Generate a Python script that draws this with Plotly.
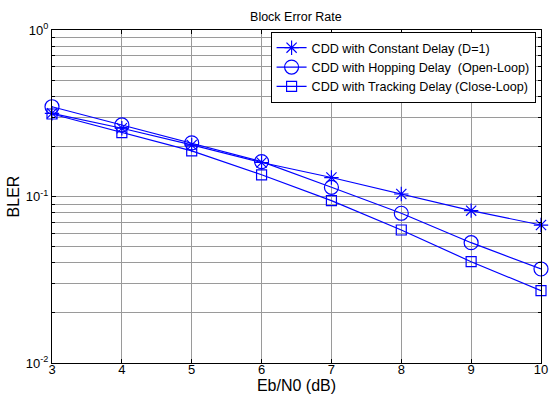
import plotly.graph_objects as go

ebn0 = [3, 4, 5, 6, 7, 8, 9, 10]
bler_constant = [0.316, 0.257, 0.204, 0.160, 0.130, 0.1035, 0.0822, 0.0674]
bler_hopping = [0.346, 0.269, 0.210, 0.162, 0.1136, 0.0793, 0.0528, 0.0367]
bler_tracking = [0.313, 0.242, 0.188, 0.135, 0.0944, 0.0629, 0.0406, 0.0272]

names = ["CDD with Constant Delay (D=1)",
         "CDD with Hopping Delay  (Open-Loop)",
         "CDD with Tracking Delay (Close-Loop)"]

y_major = [0.01, 0.1, 1]
y_major_text = ["10<sup>-2</sup>", "10<sup>-1</sup>", "10<sup>0</sup>"]
y_minor = [0.02, 0.03, 0.04, 0.05, 0.06, 0.07, 0.08, 0.09,
           0.2, 0.3, 0.4, 0.5, 0.6, 0.7, 0.8, 0.9]

fig = go.Figure()
series = [(bler_constant, "asterisk-open", 12),
          (bler_hopping, "circle-open", 14),
          (bler_tracking, "square-open", 10)]
for (vals, sym, sz), nm in zip(series, names):
    fig.add_trace(go.Scatter(
        x=ebn0, y=vals, mode="lines+markers", name=nm,
        line=dict(color="#0000FF", width=1.2),
        marker=dict(symbol=sym, size=sz, color="#0000FF",
                    line=dict(color="#0000FF", width=1.2)),
        cliponaxis=False,
    ))

fig.update_layout(
    width=549, height=394,
    margin=dict(l=52, r=8, t=30, b=31, autoexpand=False),
    paper_bgcolor="white", plot_bgcolor="white",
    font=dict(family="Liberation Sans, Arial, sans-serif", size=13, color="black"),
    title=dict(text="Block Error Rate", x=0.539, xanchor="center", y=0.959, yanchor="middle",
               font=dict(size=12.5)),
    showlegend=True,
    legend=dict(x=0.447, y=0.994, xanchor="left", yanchor="top",
                bgcolor="white", bordercolor="black", borderwidth=1,
                font=dict(size=12.6), tracegroupgap=0, itemwidth=30),
)

fig.update_xaxes(
    range=[3, 10], tickvals=ebn0, ticktext=[str(v) for v in ebn0],
    showgrid=True, gridcolor="#9a9a9a", gridwidth=1,
    showline=True, linecolor="black", linewidth=1, mirror="ticks",
    ticks="inside", ticklen=4, tickcolor="black",
    ticklabelstandoff=-6,
    title=dict(text="Eb/N0 (dB)"), zeroline=False,
    tickfont=dict(size=13), automargin=False,
)
fig.update_yaxes(
    type="log", range=[-2, 0], tickvals=y_major, ticktext=y_major_text,
    showgrid=True, gridcolor="#9a9a9a", gridwidth=1,
    showline=True, linecolor="black", linewidth=1, mirror="ticks",
    ticks="inside", ticklen=4, tickcolor="black",
    minor=dict(tickvals=y_minor, ticks="inside", ticklen=3, tickcolor="black",
               showgrid=True, gridcolor="#9a9a9a", gridwidth=1),
    title=dict(text="BLER", standoff=2), zeroline=False,
    tickfont=dict(size=13), automargin=True,
)

fig.write_html(
    "out.html",
    config={"displayModeBar": False},
    post_script="document.body.style.margin='0';document.body.style.overflow='hidden';",
)
